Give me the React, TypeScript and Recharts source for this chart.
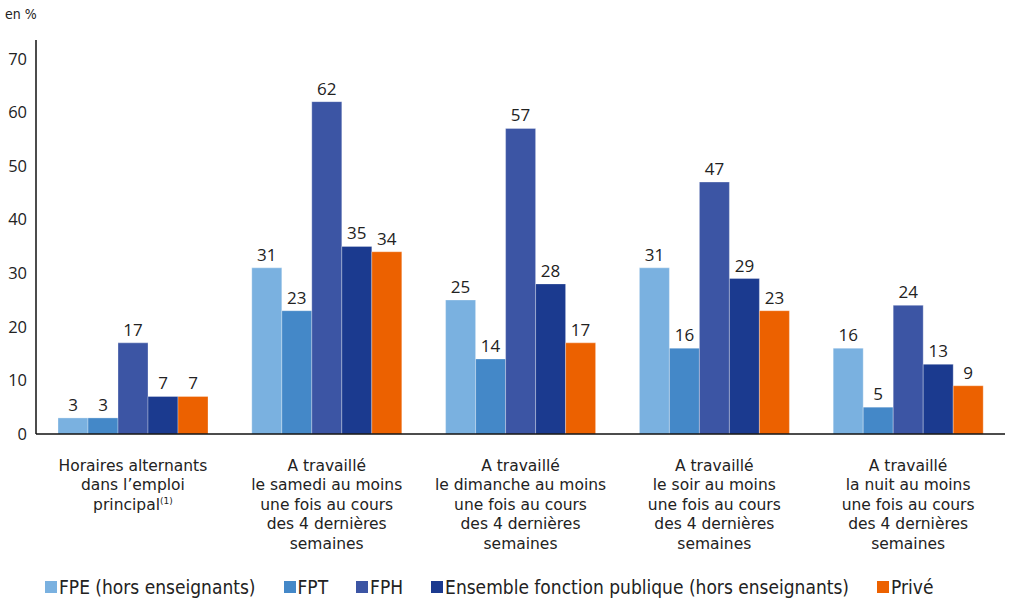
import React from 'react';
import {
  BarChart,
  Bar,
  XAxis,
  YAxis,
  LabelList,
  Legend
} from 'recharts';

// categories, each one a list of label lines
const categories = ['alternants', 'samedi', 'dimanche', 'soir', 'nuit'];
const categoryLines: Record<string, string[]> = {
  alternants: ['Horaires alternants', 'dans l’emploi', 'principal'],
  samedi: ['A travaillé', 'le samedi au moins', 'une fois au cours', 'des 4 dernières', 'semaines'],
  dimanche: ['A travaillé', 'le dimanche au moins', 'une fois au cours', 'des 4 dernières', 'semaines'],
  soir: ['A travaillé', 'le soir au moins', 'une fois au cours', 'des 4 dernières', 'semaines'],
  nuit: ['A travaillé', 'la nuit au moins', 'une fois au cours', 'des 4 dernières', 'semaines']
};

const fpe = [3, 31, 25, 31, 16];
const fpt = [3, 23, 14, 16, 5];
const fph = [17, 62, 57, 47, 24];
const ensemble = [7, 35, 28, 29, 13];
const prive = [7, 34, 17, 23, 9];

const yTicks = [0, 10, 20, 30, 40, 50, 60, 70];

const series = [
  { key: 'fpe', name: 'FPE (hors enseignants)', color: '#7AB1E0' },
  { key: 'fpt', name: 'FPT', color: '#4488C8' },
  { key: 'fph', name: 'FPH', color: '#3C55A4' },
  { key: 'ensemble', name: 'Ensemble fonction publique (hors enseignants)', color: '#1B3A8F' },
  { key: 'prive', name: 'Privé', color: '#EC6100' }
];

const data = categories.map((c, i) => ({
  cat: c,
  fpe: fpe[i],
  fpt: fpt[i],
  fph: fph[i],
  ensemble: ensemble[i],
  prive: prive[i]
}));

const FONT = '"Open Sans", "DejaVu Sans", sans-serif';
// category labels: wide font with compact line metrics (lines are tightly packed)
const CAT_FONT = '"DejaVu Sans", sans-serif';
const LEGEND_FONT = '"Liberation Sans Narrow", "DejaVu Sans Condensed", sans-serif';

// one <text> per line so the lines stay separate
function CategoryTick(props: any) {
  const { x, y, payload } = props;
  const lines = categoryLines[payload.value] || [payload.value];
  return (
    <g transform={`translate(${x},${y})`}>
      {lines.map((line, i) => (
        <text
          key={i}
          x={0}
          y={29 + i * 19.4}
          textAnchor="middle"
          fill="#222"
          fontSize={15.5}
          fontFamily={CAT_FONT}
        >
          {line}
          {payload.value === 'alternants' && i === 2 ? (
            <tspan fontSize={9} dy={-6}>(1)</tspan>
          ) : null}
        </text>
      ))}
    </g>
  );
}

function LegendContent() {
  return (
    <div
      style={{
        display: 'flex',
        alignItems: 'center',
        fontFamily: LEGEND_FONT,
        fontSize: 19,
        color: '#222',
        paddingLeft: 45
      }}
    >
      {series.map((s) => (
        <div key={s.key} style={{ display: 'flex', alignItems: 'center', marginRight: 28 }}>
          <span style={{ width: 12, height: 12, background: s.color, marginRight: 2, display: 'inline-block' }} />
          <span>{s.name}</span>
        </div>
      ))}
    </div>
  );
}

export default function App() {
  return (
    <div style={{ position: 'absolute', left: 0, top: 0, width: 1009, height: 598, background: '#fff' }}>
      <div
        style={{
          position: 'absolute',
          left: 5,
          top: 6,
          fontFamily: LEGEND_FONT,
          fontSize: 14,
          color: '#222'
        }}
      >
        en %
      </div>
      <BarChart
        width={1009}
        height={598}
        data={data}
        margin={{ top: 40, right: 4, left: 0, bottom: 22 }}
        barGap={0}
        barSize={30}
      >
        <XAxis
          dataKey="cat"
          axisLine={{ stroke: '#111', strokeWidth: 1.5 }}
          tickLine={false}
          height={120}
          interval={0}
          tick={<CategoryTick />}
        />
        <YAxis
          width={36}
          domain={[0, 73.5]}
          ticks={yTicks}
          axisLine={{ stroke: '#111', strokeWidth: 1.5 }}
          tickLine={false}
          tickSize={0}
          tickMargin={9}
          tick={{ fill: '#222', fontSize: 16.5, fontFamily: FONT }}
        />
        <Legend
          layout="vertical"
          align="center"
          verticalAlign="bottom"
          content={<LegendContent />}
          wrapperStyle={{ left: 0, top: 576, width: 1009 }}
        />
        {series.map((s) => (
          <Bar
            key={s.key}
            dataKey={s.key}
            name={s.name}
            fill={s.color}
            stroke="#ffffff"
            strokeOpacity={0.5}
            strokeWidth={0.6}
            isAnimationActive={false}
          >
            <LabelList
              dataKey={s.key}
              position="top"
              offset={7}
              fill="#222"
              fontSize={17}
              fontFamily={FONT}
            />
          </Bar>
        ))}
      </BarChart>
    </div>
  );
}
